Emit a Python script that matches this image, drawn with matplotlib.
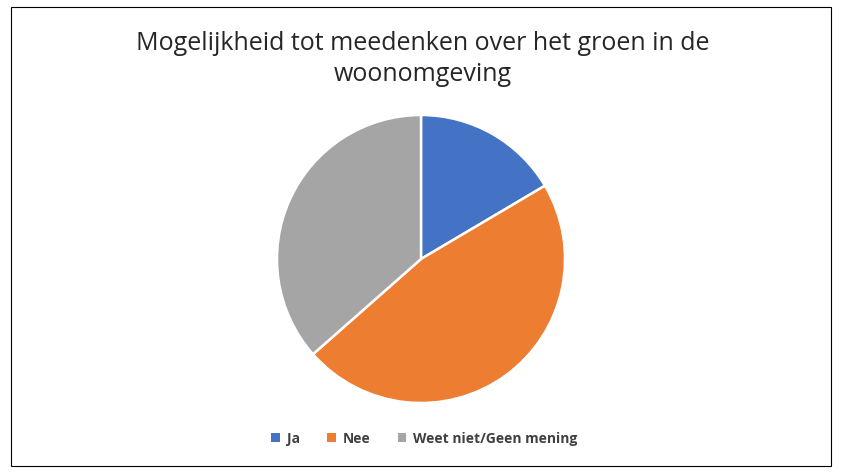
import matplotlib.pyplot as plt
from matplotlib.patches import Rectangle, Patch

TITLE = "Mogelijkheid tot meedenken over het groen in de\nwoonomgeving"
LABELS = ["Ja", "Nee", "Weet niet/Geen mening"]
SHARES = [16.5, 47.0, 36.5]
COLORS = ["#4472C4", "#ED7D31", "#A5A5A5"]

fig = plt.figure(figsize=(8.54, 4.77), dpi=100)
fig.patch.set_facecolor("white")

# chart border
fig.patches.append(Rectangle((11 / 854, 1 - 467 / 477), 820 / 854, 459 / 477,
                             transform=fig.transFigure, fill=False,
                             edgecolor="#000000", linewidth=0.8))

fig.text(0.495, 1 - 59 / 477, TITLE, ha="center", va="center",
         fontsize=18, color="#262626", family="Open Sans", linespacing=1.32)

cx, cy, r = 421, 260, 144
ax = fig.add_axes([(cx - r) / 854, 1 - (cy + r) / 477, 2 * r / 854, 2 * r / 477])
ax.pie(SHARES, colors=COLORS, startangle=90, counterclock=False,
       wedgeprops={"edgecolor": "white", "linewidth": 1.8})
ax.set_xlim(-1, 1)
ax.set_ylim(-1, 1)
ax.set_aspect("equal")

handles = [Patch(facecolor=c, edgecolor="none") for c in COLORS]
fig.legend(handles, LABELS, loc="center", bbox_to_anchor=(0.497, 1 - 439 / 477),
           ncol=3, frameon=False, handlelength=0.6, handleheight=0.6,
           columnspacing=2.0, handletextpad=0.5,
           prop={"family": "Open Sans", "weight": "bold", "size": 10},
           labelcolor="#404040")

fig.savefig("out.png", dpi=100, facecolor="white")
